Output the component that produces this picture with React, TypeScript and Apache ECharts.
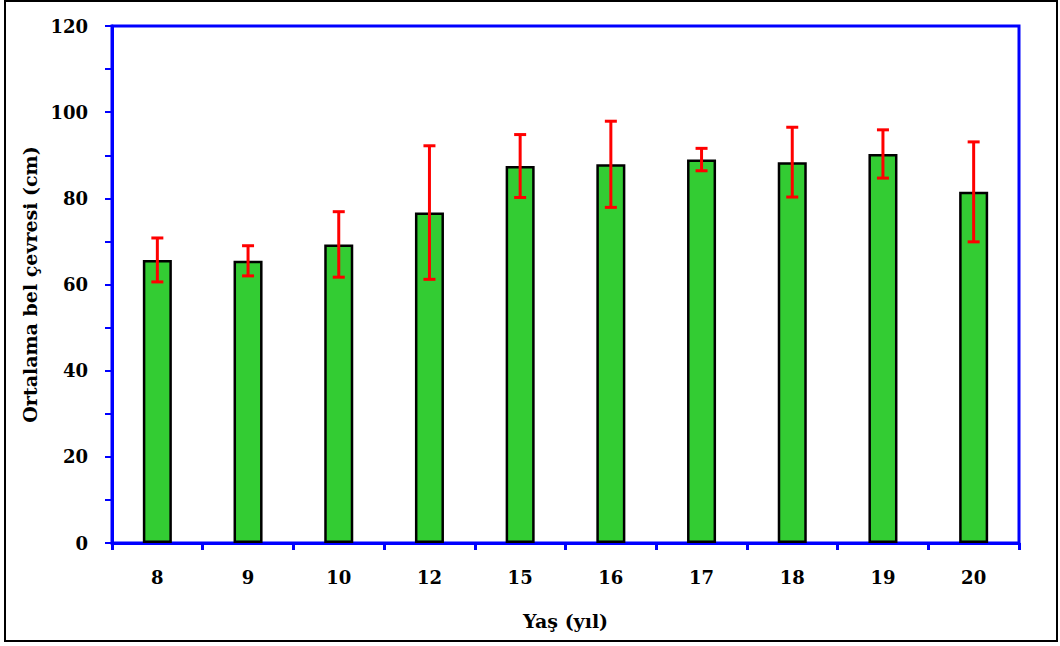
import React, { useEffect, useRef } from "react";
import * as echarts from "echarts";

const categories = ["8", "9", "10", "12", "15", "16", "17", "18", "19", "20"];
const means = [65.7, 65.5, 69.3, 76.7, 87.5, 87.9, 89.0, 88.4, 90.3, 81.5];
const errors = [5.1, 3.5, 7.6, 15.5, 7.3, 10.0, 2.6, 8.1, 5.6, 11.6];

const FONT = "'DejaVu Serif', 'Liberation Serif', serif";
const BLUE = "#0000FF";

export default function App() {
  const ref = useRef<HTMLDivElement>(null);
  useEffect(() => {
    if (!ref.current) return;
    const chart = echarts.init(ref.current, null, { renderer: "svg" });
    const errData = categories.map((c, i) => [i, means[i] - errors[i], means[i] + errors[i]]);
    chart.setOption({
      animation: false,
      backgroundColor: "#fff",
      graphic: [
        {
          type: "rect",
          shape: { x: 5, y: 1, width: 1052, height: 640 },
          style: { fill: "none", stroke: "#000", lineWidth: 2 },
          silent: true,
          z: -1,
        },
      ],
      grid: {
        left: 112,
        right: 41,
        top: 26,
        bottom: 103,
        show: true,
        borderColor: BLUE,
        borderWidth: 3,
        backgroundColor: "transparent",
      },
      xAxis: {
        type: "category",
        data: categories,
        name: "Yaş (yıl)",
        nameLocation: "middle",
        nameGap: 68,
        nameTextStyle: { fontFamily: FONT, fontWeight: "bold", fontSize: 19, color: "#000" },
        axisLine: { lineStyle: { color: BLUE, width: 3 } },
        axisTick: { show: true, inside: false, length: 7, alignWithLabel: false, lineStyle: { color: BLUE, width: 3 } },
        axisLabel: { fontFamily: FONT, fontWeight: "bold", fontSize: 18, color: "#000", margin: 25 },
        splitLine: { show: false },
      },
      yAxis: {
        type: "value",
        min: 0,
        max: 120,
        interval: 20,
        name: "Ortalama bel çevresi (cm)",
        nameLocation: "middle",
        nameGap: 72,
        nameRotate: 90,
        nameTextStyle: { fontFamily: FONT, fontWeight: "bold", fontSize: 19, color: "#000" },
        axisLine: { show: true, lineStyle: { color: BLUE, width: 3 } },
        axisTick: { show: true, inside: false, length: 7, lineStyle: { color: BLUE, width: 2 } },
        minorTick: { show: true, splitNumber: 2, length: 7, lineStyle: { color: BLUE, width: 2 } },
        axisLabel: { fontFamily: FONT, fontWeight: "bold", fontSize: 18, color: "#000", margin: 24 },
        splitLine: { show: false },
      },
      series: [
        {
          type: "bar",
          data: means,
          barWidth: "32%",
          itemStyle: { color: "#33CC33", borderColor: "#000", borderWidth: 2.5 },
          z: 2,
        },
        {
          type: "custom",
          data: errData,
          z: 5,
          renderItem: (params: any, api: any) => {
            const x = api.value(0);
            const lo = api.coord([x, api.value(1)]);
            const hi = api.coord([x, api.value(2)]);
            const hw = 6;
            const style = { stroke: "#FF0000", lineWidth: 3 };
            return {
              type: "group",
              children: [
                { type: "line", shape: { x1: lo[0], y1: lo[1], x2: hi[0], y2: hi[1] }, style },
                { type: "line", shape: { x1: lo[0] - hw, y1: lo[1], x2: lo[0] + hw, y2: lo[1] }, style },
                { type: "line", shape: { x1: hi[0] - hw, y1: hi[1], x2: hi[0] + hw, y2: hi[1] }, style },
              ],
            };
          },
        },
      ],
    });
    return () => chart.dispose();
  }, []);
  return (
    <div
      ref={ref}
      style={{ position: "fixed", left: 0, top: 0, width: 1060, height: 646 }}
    />
  );
}
